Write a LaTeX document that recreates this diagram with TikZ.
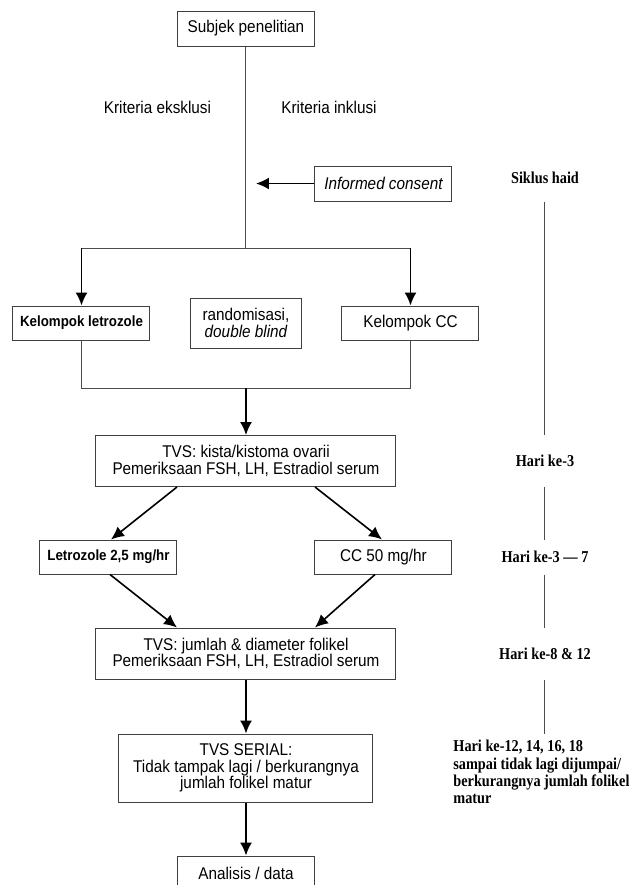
\documentclass[tikz,border=0pt]{standalone}
\usepackage{fontspec}
\setsansfont{Liberation Sans}[FakeStretch=0.9]
\newfontfamily\dayfont{Liberation Serif}[FakeStretch=0.86]
\usepackage{tikz}
\usetikzlibrary{arrows.meta, positioning}
\tikzstyle{flowBox} = [draw=black!75, line width=0.5pt, rectangle, inner sep=0pt,
   align=center, font=\sffamily\fontsize{8.5}{8.4}\selectfont,
   minimum width=68.5pt, minimum height=17.5pt]
\tikzstyle{boldBox} = [flowBox, minimum height=17pt,
   font=\sffamily\bfseries\fontsize{7.4}{8.4}\selectfont]
\tikzstyle{wideBox} = [flowBox, minimum width=150pt, minimum height=25.5pt]
\tikzstyle{plainText} = [font=\sffamily\fontsize{8.5}{8.4}\selectfont]
\tikzstyle{dayLabel} = [font=\dayfont\bfseries\fontsize{8.3}{8.6}\selectfont, inner sep=0pt]
\tikzstyle{thinLine} = [draw=black!70, line width=0.5pt]
\tikzstyle{flowArrow} = [draw=black, line width=0.8pt, -{Latex[length=6.5pt,width=6pt]}]

\begin{document}
\begin{tikzpicture}[on grid]
  \useasboundingbox (-123pt,14.25pt) rectangle (193.5pt,-428.25pt);
  \node[flowBox] (subj) {Subjek penelitian};
  \node[plainText, below left=39.25pt and 44.25pt of subj] (excl) {Kriteria eksklusi};
  \node[plainText, below right=39.25pt and 41.5pt of subj] (incl) {Kriteria inklusi};
  \node[flowBox, below right=77.5pt and 68.75pt of subj] (inf) {\itshape Informed consent};
  \node[flowBox, minimum width=55.5pt, minimum height=25pt, below=147.25pt of subj] (rand) {randomisasi,\\\itshape double blind};
  \node[boldBox, left=82.25pt of rand] (letg) {Kelompok letrozole};
  \node[flowBox, minimum height=17pt, right=82.25pt of rand] (ccg) {Kelompok CC};
  \node[wideBox, below=69pt of rand] (tvs1) {TVS: kista/kistoma ovarii\\Pemeriksaan FSH, LH, Estradiol serum};
  \node[boldBox, below left=48pt and 68.75pt of tvs1] (letd) {Letrozole 2,5 mg/hr};
  \node[flowBox, minimum height=17pt, below right=48pt and 68.75pt of tvs1] (ccd) {CC 50 mg/hr};
  \node[wideBox, below=96.25pt of tvs1] (tvs2) {TVS: jumlah \& diameter folikel\\Pemeriksaan FSH, LH, Estradiol serum};
  \node[flowBox, minimum width=127pt, minimum height=34pt, below=57.25pt of tvs2] (tvs3) {TVS SERIAL:\\Tidak tampak lagi / berkurangnya\\jumlah folikel matur};
  \node[flowBox, below=52.75pt of tvs3] (anal) {Analisis / data};

  % day labels on the right
  \node[dayLabel, right=80.75pt of inf, yshift=2.75pt] (siklus) {Siklus haid};
  \node[dayLabel, right=149.5pt of tvs1] (hari3) {Hari ke-3};
  \node[dayLabel, right=80.75pt of ccd] (hari37) {Hari ke-3 — 7};
  \node[dayLabel, right=149.5pt of tvs2] (hari812) {Hari ke-8 \& 12};
  \node[dayLabel, align=left, anchor=north west] (hari12) at (103.5pt,-355.75pt)
    {Hari ke-12, 14, 16, 18\\sampai tidak lagi dijumpai/\\berkurangnya jumlah folikel\\matur};

  % helper points
  \coordinate[below=109.75pt of subj] (split);
  \coordinate (splitL) at (letg |- split);
  \coordinate (splitR) at (ccg |- split);
  \coordinate[left=63.75pt of inf] (icTip);
  \coordinate[below=32.5pt of rand] (join);

  % connectors
  \draw[thinLine] (subj) -- (split);
  \draw[thinLine] (splitL) -- (splitR);
  \draw[flowArrow] (splitL) -- (letg);
  \draw[flowArrow] (splitR) -- (ccg);
  \draw[flowArrow] (inf) -- (icTip);
  \draw[thinLine] (letg) |- (join);
  \draw[thinLine] (ccg) |- (join);
  \draw[flowArrow] (join) -- (tvs1);
  \draw[flowArrow] ([xshift=-34.5pt]tvs1.south) -- ([xshift=1.25pt]letd.north);
  \draw[flowArrow] ([xshift=34.5pt]tvs1.south) -- ([xshift=-0.75pt]ccd.north);
  \draw[flowArrow] ([xshift=0.75pt]letd.south) -- ([xshift=-34.5pt]tvs2.north);
  \draw[flowArrow] ([xshift=-4.25pt]ccd.south) -- ([xshift=34.5pt]tvs2.north);
  \draw[flowArrow] (tvs2) -- (tvs3);
  \draw[flowArrow] (tvs3) -- (anal);

  % cycle line, broken at the labels
  \draw[thinLine] (siklus |- inf.south) -- (siklus |- tvs1.north);
  \draw[thinLine] (siklus |- tvs1.south) -- (siklus |- ccd.north);
  \draw[thinLine] (siklus |- ccd.south) -- (siklus |- tvs2.north);
  \draw[thinLine] (siklus |- tvs2.south) -- (siklus |- tvs3.north);
\end{tikzpicture}
\end{document}
